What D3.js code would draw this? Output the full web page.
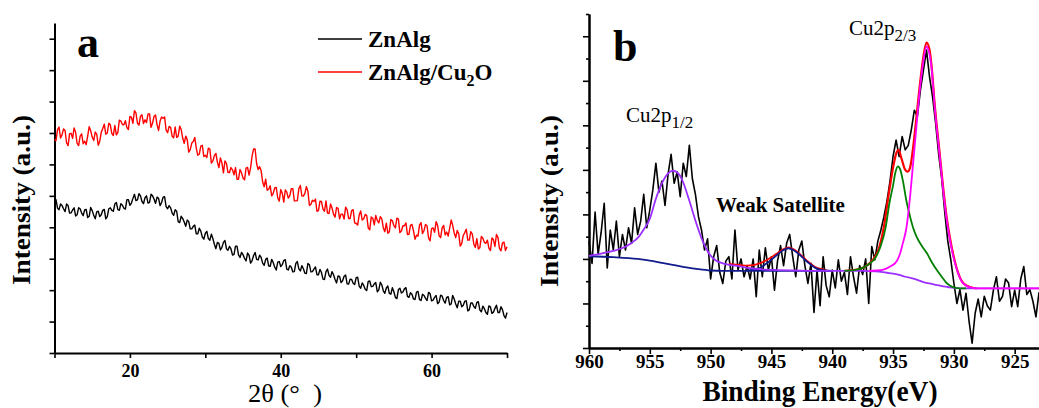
<!DOCTYPE html>
<html>
<head>
<meta charset="utf-8">
<script src="https://cdn.jsdelivr.net/npm/d3@7/dist/d3.min.js"></script>
<style>
  html, body { margin: 0; padding: 0; background: #fff; }
  svg { display: block; }
</style>
</head>
<body>
<script>
// ---------------- DATA ----------------
// Panel a: XRD, 2θ from 10 to 70 in steps of 0.2
const xrdStart = 10, xrdStep = 0.2;
const xrdTicks = [10, 20, 30, 40, 50, 60, 70];
const xrdTickLabels = [20, 40, 60];
const znAlg = [
4.87,4.88,4.61,4.56,4.74,4.69,4.59,4.50,4.74,4.69,4.45,4.46,4.55,4.62,4.36,4.40,4.62,4.59,4.45,4.37,
4.55,4.57,4.31,4.35,4.63,4.53,4.38,4.27,4.49,4.51,4.34,4.40,4.54,4.57,4.27,4.34,4.59,4.62,4.54,4.51,
4.74,4.79,4.56,4.54,4.75,4.70,4.61,4.58,4.88,4.88,4.70,4.77,4.92,5.05,4.85,4.87,5.07,5.00,4.82,4.75,
4.94,5.00,4.77,4.79,5.05,5.00,4.90,4.76,4.96,4.92,4.69,4.79,4.96,4.97,4.66,4.59,4.69,4.62,4.45,4.38,
4.56,4.51,4.18,4.15,4.35,4.28,4.17,4.03,4.23,4.18,3.95,3.95,4.03,4.07,3.79,3.79,3.97,3.88,3.69,3.62,
3.81,3.87,3.64,3.59,3.78,3.64,3.46,3.32,3.52,3.49,3.28,3.36,3.52,3.58,3.32,3.27,3.39,3.31,3.12,3.13,
3.40,3.40,3.12,3.04,3.20,3.13,3.01,2.93,3.18,3.11,2.86,2.94,3.10,3.20,2.98,2.96,3.11,3.04,2.86,2.79,
2.98,3.02,2.77,2.76,2.98,2.88,2.73,2.64,2.89,2.91,2.75,2.81,2.94,2.97,2.67,2.64,2.78,2.73,2.58,2.59,
2.85,2.91,2.68,2.61,2.78,2.68,2.54,2.53,2.85,2.81,2.58,2.59,2.67,2.74,2.49,2.49,2.66,2.56,2.35,2.34,
2.59,2.67,2.47,2.41,2.59,2.49,2.34,2.23,2.45,2.44,2.24,2.30,2.44,2.48,2.20,2.19,2.35,2.34,2.22,2.18,
2.40,2.41,2.13,2.06,2.23,2.15,2.03,1.99,2.28,2.29,2.11,2.12,2.20,2.24,1.95,2.01,2.25,2.17,1.98,1.90,
2.07,2.13,1.90,1.87,2.08,1.95,1.77,1.73,2.02,2.06,1.91,1.94,2.04,2.08,1.80,1.77,1.92,1.87,1.72,1.70,
1.94,1.96,1.70,1.67,1.87,1.83,1.74,1.67,1.93,1.89,1.66,1.68,1.77,1.83,1.57,1.62,1.84,1.81,1.67,1.59,
1.77,1.79,1.53,1.56,1.83,1.72,1.56,1.44,1.65,1.65,1.47,1.52,1.65,1.66,1.34,1.38,1.59,1.59,1.48,1.42,
1.61,1.63,1.37,1.31,1.49,1.41,1.29,1.23,1.50,1.47,1.26,1.30,1.42,1.52,1.29,1.29,1.47,1.38,1.19,1.11,
1.29];
const znAlgCu2O = [
6.79,6.76,7.11,7.19,6.84,6.94,7.13,7.08,6.69,6.60,6.98,6.99,6.83,7.16,7.02,6.67,6.60,6.90,6.97,6.66,
6.74,6.63,6.90,7.20,7.07,6.87,6.76,7.03,6.96,6.61,6.74,7.02,7.14,7.28,6.96,7.00,7.31,7.26,6.99,6.92,
7.24,6.94,7.02,7.41,7.38,7.27,7.26,7.39,7.17,7.11,7.53,7.50,7.31,7.71,7.64,7.31,7.25,7.53,7.58,7.30,
7.42,7.33,7.61,7.61,7.18,7.31,7.53,7.57,7.26,7.08,7.38,7.51,7.47,7.51,7.09,7.01,7.21,7.17,6.90,6.85,
7.19,6.86,6.90,7.22,7.11,6.84,6.67,6.90,6.79,6.39,6.47,6.68,6.73,6.86,6.52,6.29,6.33,6.58,6.61,6.25,
6.29,6.22,6.52,6.49,6.04,6.11,6.28,6.35,6.07,5.90,6.21,6.05,5.73,6.11,6.03,5.75,5.74,5.90,5.83,5.67,
5.90,5.53,5.53,5.84,5.73,5.57,5.51,5.88,5.91,5.66,5.89,6.27,6.49,6.49,6.03,5.84,5.93,5.80,5.44,5.29,
5.53,5.18,5.21,5.32,5.00,5.08,5.25,5.27,4.94,4.83,5.20,5.08,4.80,5.19,5.12,4.93,5.01,5.23,5.23,4.84,
4.84,4.85,5.23,5.33,5.00,4.99,5.08,5.29,5.15,4.70,4.73,4.86,4.82,4.90,4.51,4.53,4.83,4.82,4.58,4.51,
4.84,4.45,4.44,4.74,4.61,4.42,4.32,4.63,4.60,4.27,4.42,4.42,4.26,4.64,4.56,4.28,4.28,4.53,4.56,4.14,
4.12,4.07,4.39,4.52,4.23,4.27,4.41,4.37,3.98,3.92,4.33,4.29,4.08,4.38,4.22,4.14,4.34,4.27,3.98,3.86,
4.13,3.81,3.86,4.25,4.21,4.05,3.98,4.29,4.26,3.83,3.88,4.05,4.05,4.14,3.77,3.78,4.06,4.09,3.89,3.62,
3.75,3.72,4.07,4.15,3.80,3.90,4.09,4.05,3.66,3.57,3.96,3.98,3.84,4.18,4.06,3.73,3.67,3.98,4.06,3.76,
3.85,3.72,3.97,4.23,4.06,3.82,3.67,3.90,3.79,3.40,3.49,3.74,3.83,3.94,3.59,3.59,3.86,3.78,3.47,3.36,
3.64,3.31,3.35,3.71,3.65,3.52,3.49,3.59,3.34,3.26,3.66,3.61,3.39,3.77,3.68,3.33,3.25,3.50,3.53,3.26,
3.38];

// Panel b: XPS, binding energy from 960 down to 923 in steps of 0.25
const xpsStart = 960, xpsStep = -0.25;
const xpsMajorTicks = [960, 955, 950, 945, 940, 935, 930, 925];
const xpsMinorTicks = [957.5, 952.5, 947.5, 942.5, 937.5, 932.5, 927.5];
const xpsRaw = [
2.40,1.90,3.05,2.10,2.60,3.25,1.80,2.65,2.20,2.85,2.05,2.55,2.20,2.70,2.35,3.15,2.55,2.85,3.45,2.70,3.10,
3.55,4.15,3.50,3.75,3.20,3.90,4.35,3.70,3.95,3.40,4.15,3.85,4.55,3.80,3.45,2.95,2.65,2.20,2.45,1.55,
2.05,2.30,1.70,1.45,1.95,2.05,1.55,2.65,1.75,2.00,1.60,1.85,1.55,2.00,1.15,2.20,1.60,2.25,1.75,2.05,
1.30,1.95,2.30,1.85,2.35,2.55,2.05,1.60,2.20,2.40,1.85,1.45,1.90,0.80,1.75,0.95,2.05,1.40,1.15,1.75,
1.35,1.98,1.50,1.70,1.20,2.05,1.60,1.23,1.85,1.65,2.00,1.00,2.28,1.98,2.40,2.65,2.95,3.30,3.75,4.30,
4.67,4.30,4.75,4.45,4.55,4.90,5.34,5.20,5.79,6.24,6.69,6.09,5.64,5.05,4.35,3.80,3.05,2.40,1.98,1.46,
1.00,1.31,0.85,1.23,0.60,0.11,0.78,1.10,0.70,1.16,0.95,0.85,1.30,1.60,1.05,1.16,1.55,1.46,0.93,1.30,
0.93,1.55,1.83,1.20,1.31,1.05,0.70,1.25];

// fitted curves: [binding energy, intensity]
const fitBackground = [[960,2.06],[958,2.04],[956,2.00],[955,1.96],[954,1.91],[953,1.86],[952,1.81],
  [951,1.77],[950,1.74],[949,1.73],[945,1.73],[940,1.73]];
const fitSatellite = [[947,1.74],[946.5,1.76],[946,1.79],[945.5,1.88],[945,1.98],[944.5,2.10],[944,2.20],
  [943.6,2.24],[943.2,2.20],[942.7,2.10],[942.2,1.97],[941.9,1.90],[941.4,1.80],[941,1.76],[940.5,1.74],[940,1.73]];
const fitCu2p12 = [[960,2.07],[959,2.12],[958,2.18],[957.3,2.24],[956.5,2.36],[955.9,2.50],[955.5,2.66],
  [955,2.90],[954.5,3.35],[954,3.70],[953.5,3.92],[953.1,3.98],[952.7,3.93],[952.3,3.75],[951.8,3.35],
  [951.2,2.82],[950.7,2.43],[950.2,2.15],[949.6,1.97],[949,1.90],[948.3,1.86],[947.7,1.84],[947,1.80],
  [946.3,1.78],[945.5,1.76],[944.5,1.75],[943,1.74],[941.5,1.73],[937.5,1.73],[936.5,1.72],[936,1.71],
  [935.5,1.69],[935,1.67],[934.5,1.64],[934,1.60],[933.5,1.57],[933,1.53],[932.5,1.48],[932,1.45],
  [931.5,1.42],[931,1.39],[930.5,1.37],[930,1.35],[929.5,1.34],[929,1.34],[923,1.34]];
const fitEnvelopeSat = [[948.5,1.89],[947.5,1.86],[947,1.85],[946.5,1.86],[946,1.90],[945.5,1.96],[945,2.04],
  [944.5,2.13],[944,2.22],[943.6,2.26],[943.2,2.22],[942.7,2.12],[942.2,1.99],[941.9,1.92],[941.4,1.82],
  [941,1.78],[940.5,1.75]];
const fitEnvelopeMain = [[939,1.73],[937.7,1.78],[936.4,2.08],[935.8,2.65],[935.3,3.55],[935,4.05],[934.7,4.40],
  [934.55,4.45],[934.3,4.25],[934,4.00],[933.8,3.96],[933.6,4.05],[933.35,4.50],[933.07,5.20],[932.8,5.90],
  [932.5,6.55],[932.25,6.86],[932,6.70],[931.84,6.35],[931.57,5.45],[931.16,4.35],[930.9,3.65],[930.6,2.95],
  [930.34,2.50],[929.8,1.82],[929.24,1.46],[928.7,1.37],[928.14,1.34]];
const fitCu2p32Sat = [[939,1.73],[938,1.76],[937.5,1.80],[937,1.88],[936.4,2.05],[936,2.30],[935.6,2.72],
  [935.3,3.25],[935,3.65],[934.8,3.95],[934.6,4.08],[934.4,4.00],[934.2,3.77],[933.9,3.30],[933.6,2.95],
  [933.35,2.70],[933.07,2.50],[932.6,2.28],[932.2,2.12],[931.8,1.92],[931.4,1.75],[931,1.60],[930.6,1.46],
  [930.3,1.40],[930,1.36],[929.5,1.34],[929,1.34]];
const fitCu2p32Main = [[937,1.73],[936.4,1.74],[935.8,1.76],[935.3,1.82],[934.7,1.95],[934.45,2.10],[934.2,2.35],
  [933.9,2.70],[933.6,3.40],[933.35,4.15],[933.07,5.00],[932.8,5.80],[932.5,6.45],[932.25,6.77],[932.05,6.65],
  [931.84,6.30],[931.57,5.40],[931.16,4.30],[930.9,3.60],[930.6,2.90],[930.34,2.45],[929.8,1.80],[929.24,1.45],
  [928.7,1.37],[928.14,1.34],[923,1.34]];

// ---------------- DRAW ----------------
const W = 1039, H = 408;
const FONT = '"Liberation Serif", "Times New Roman", serif';
const svg = d3.select("body").append("svg").attr("width", W).attr("height", H)
  .attr("font-family", FONT);
svg.append("rect").attr("width", W).attr("height", H).attr("fill", "#fff");

function styleAxis(g, fontSize) {
  g.select(".domain").attr("stroke", "#000").attr("stroke-width", 2);
  g.selectAll(".tick line").attr("stroke", "#000").attr("stroke-width", 1.6);
  g.selectAll(".tick text").attr("fill", "#000").attr("font-family", FONT)
    .attr("font-weight", "bold").attr("font-size", fontSize);
}

// ----- Panel a -----
const xa = d3.scaleLinear().domain([10, 70]).range([54.5, 507]);
const ya = d3.scaleLinear().domain([0, 10.5]).range([353, 23]);

const gaX = svg.append("g").attr("transform", `translate(0,${ya(0)})`)
  .call(d3.axisBottom(xa).tickValues(xrdTicks).tickSize(5).tickSizeOuter(0).tickPadding(6)
    .tickFormat(d => xrdTickLabels.includes(d) ? d : ""));
styleAxis(gaX, 18);
const gaY = svg.append("g").attr("transform", `translate(${xa(10)},0)`)
  .call(d3.axisLeft(ya).tickValues(d3.range(0, 11)).tickSize(5).tickSizeOuter(0).tickFormat(""));
styleAxis(gaY, 18);

const lineA = d3.line().x((d, i) => xa(xrdStart + i * xrdStep)).y(d => ya(d));
svg.append("path").datum(znAlgCu2O).attr("d", lineA).attr("fill", "none")
  .attr("stroke", "#ff0000").attr("stroke-width", 1.4).attr("stroke-linejoin", "round");
svg.append("path").datum(znAlg).attr("d", lineA).attr("fill", "none")
  .attr("stroke", "#000").attr("stroke-width", 1.4).attr("stroke-linejoin", "round");

// legend
svg.append("line").attr("x1", 318).attr("x2", 362).attr("y1", 39).attr("y2", 39)
  .attr("stroke", "#000").attr("stroke-width", 1.5);
svg.append("line").attr("x1", 318).attr("x2", 362).attr("y1", 72).attr("y2", 72)
  .attr("stroke", "#ff0000").attr("stroke-width", 1.5);
svg.append("text").attr("x", 368).attr("y", 47).attr("font-size", 23).attr("font-weight", "bold")
  .text("ZnAlg");
const leg2 = svg.append("text").attr("x", 368).attr("y", 80).attr("font-size", 23).attr("font-weight", "bold");
leg2.append("tspan").text("ZnAlg/Cu");
leg2.append("tspan").attr("dy", 6).attr("font-size", 16).text("2");
leg2.append("tspan").attr("dy", -6).text("O");

svg.append("text").attr("x", 77).attr("y", 57).attr("font-size", 44).attr("font-weight", "bold").text("a");
svg.append("text").attr("x", 285).attr("y", 402).attr("font-size", 26).attr("text-anchor", "middle")
  .attr("textLength", 74).attr("lengthAdjust", "spacingAndGlyphs")
  .text("2θ (°\u00a0\u00a0)");
svg.append("text").attr("transform", "translate(30,200) rotate(-90)").attr("text-anchor", "middle")
  .attr("font-size", 26).attr("font-weight", "bold").attr("textLength", 170).attr("lengthAdjust", "spacingAndGlyphs")
  .text("Intensity (a.u.)");

// ----- Panel b -----
const xb = d3.scaleLinear().domain([960, 923]).range([589, 1039]);
const yb = d3.scaleLinear().domain([0, 7.5]).range([348, 14]);

const gbXm = svg.append("g").attr("transform", `translate(0,${yb(0)})`)
  .call(d3.axisBottom(xb).tickValues(xpsMinorTicks).tickSize(3).tickSizeOuter(0).tickFormat(""));
styleAxis(gbXm, 19);
const gbX = svg.append("g").attr("transform", `translate(0,${yb(0)})`)
  .call(d3.axisBottom(xb).tickValues(xpsMajorTicks).tickSize(6).tickSizeOuter(0).tickPadding(1).tickFormat(d3.format("d")));
styleAxis(gbX, 19);
const gbYm = svg.append("g").attr("transform", `translate(${xb(960)},0)`)
  .call(d3.axisLeft(yb).tickValues(d3.range(0.5, 7.6, 1)).tickSize(3).tickSizeOuter(0).tickFormat(""));
styleAxis(gbYm, 19);
const gbY = svg.append("g").attr("transform", `translate(${xb(960)},0)`)
  .call(d3.axisLeft(yb).tickValues(d3.range(0, 8)).tickSize(6).tickSizeOuter(0).tickFormat(""));
styleAxis(gbY, 19);

const lineRaw = d3.line().x((d, i) => xb(xpsStart + i * xpsStep)).y(d => yb(d));
svg.append("path").datum(xpsRaw).attr("d", lineRaw).attr("fill", "none")
  .attr("stroke", "#000").attr("stroke-width", 1.6).attr("stroke-linejoin", "round");

const lineFit = d3.line().x(d => xb(d[0])).y(d => yb(d[1])).curve(d3.curveMonotoneX);
function fit(data, color, w) {
  svg.append("path").datum(data).attr("d", lineFit).attr("fill", "none")
    .attr("stroke", color).attr("stroke-width", w || 1.8);
}
fit(fitEnvelopeSat, "#ff0000");
fit(fitEnvelopeMain, "#ff0000", 2.2);
fit(fitBackground, "#101c8c");
fit(fitSatellite, "#101c8c");
fit(fitCu2p12, "#9b30ff");
fit(fitCu2p32Sat, "#008000");
fit(fitCu2p32Main, "#ff00ff");

svg.append("text").attr("x", 613).attr("y", 61).attr("font-size", 44).attr("font-weight", "bold").text("b");
const l12 = svg.append("text").attr("x", 626).attr("y", 122).attr("font-size", 21);
l12.append("tspan").text("Cu2p");
l12.append("tspan").attr("dy", 6).attr("font-size", 17).text("1/2");
const l32 = svg.append("text").attr("x", 849).attr("y", 35).attr("font-size", 21);
l32.append("tspan").text("Cu2p");
l32.append("tspan").attr("dy", 6).attr("font-size", 17).text("2/3");
svg.append("text").attr("x", 716).attr("y", 212).attr("font-size", 21).attr("font-weight", "bold")
  .text("Weak Satellite");
svg.append("text").attr("x", 820).attr("y", 401).attr("text-anchor", "middle")
  .attr("font-size", 29).attr("font-weight", "bold").attr("textLength", 235).attr("lengthAdjust", "spacingAndGlyphs")
  .text("Binding Energy(eV)");
svg.append("text").attr("transform", "translate(558,201) rotate(-90)").attr("text-anchor", "middle")
  .attr("font-size", 26).attr("font-weight", "bold").attr("textLength", 172).attr("lengthAdjust", "spacingAndGlyphs")
  .text("Intensity (a.u.)");
</script>
</body>
</html>
